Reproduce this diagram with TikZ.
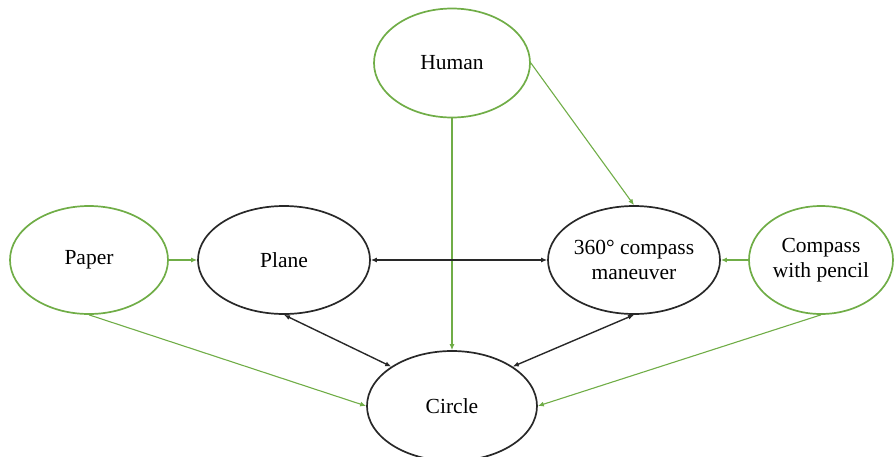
\documentclass[tikz,border=0pt]{standalone}
\usepackage{fontspec}
\setmainfont{Liberation Serif}
\usetikzlibrary{shapes.geometric,arrows.meta}
\definecolor{grn}{RGB}{112,173,71}
\definecolor{blk}{RGB}{40,40,40}
\tikzset{
  ell/.style={ellipse,draw,line width=1.7pt,inner sep=0pt,align=center,font=\fontsize{21.5}{25}\selectfont},
  gell/.style={ell,draw=grn},
  bell/.style={ell,draw=blk},
  garr/.style={draw=grn,line width=1.1pt,-{Latex[length=6pt,width=5pt]}},
  barr/.style={draw=blk,line width=1.4pt,{Latex[length=6pt,width=5pt]}-{Latex[length=6pt,width=5pt]}}
}
\begin{document}
\begin{tikzpicture}[x=1pt,y=-1pt]
\useasboundingbox (0,0) rectangle (894,456);
\node[gell,minimum width=156pt,minimum height=109pt] (human) at (452,63) {Human};
\node[gell,minimum width=158pt,minimum height=108pt] (paper) at (89,260) {Paper};
\node[bell,minimum width=172pt,minimum height=108pt] (plane) at (284,260) {Plane};
\node[bell,minimum width=172pt,minimum height=108pt] (comp) at (634,260) {360° compass\\maneuver};
\node[gell,minimum width=144pt,minimum height=108pt] (pencil) at (821,260) {Compass\\with pencil};
\node[bell,minimum width=170pt,minimum height=110pt] (circle) at (452,406) {Circle};
\draw[garr] (paper.east) -- (plane.west);
\draw[garr] (pencil.west) -- (comp.east);
\draw[garr] (human.east) -- (comp.north);
\draw[garr] (human.south) -- (circle.north);
\draw[garr] (paper.south) -- (circle.west);
\draw[garr] (pencil.south) -- (circle.east);
\draw[barr] (plane.east) -- (comp.west);
\draw[barr] (plane.south) -- (circle.147);
\draw[barr] (comp.south) -- (circle.33);
\end{tikzpicture}
\end{document}
